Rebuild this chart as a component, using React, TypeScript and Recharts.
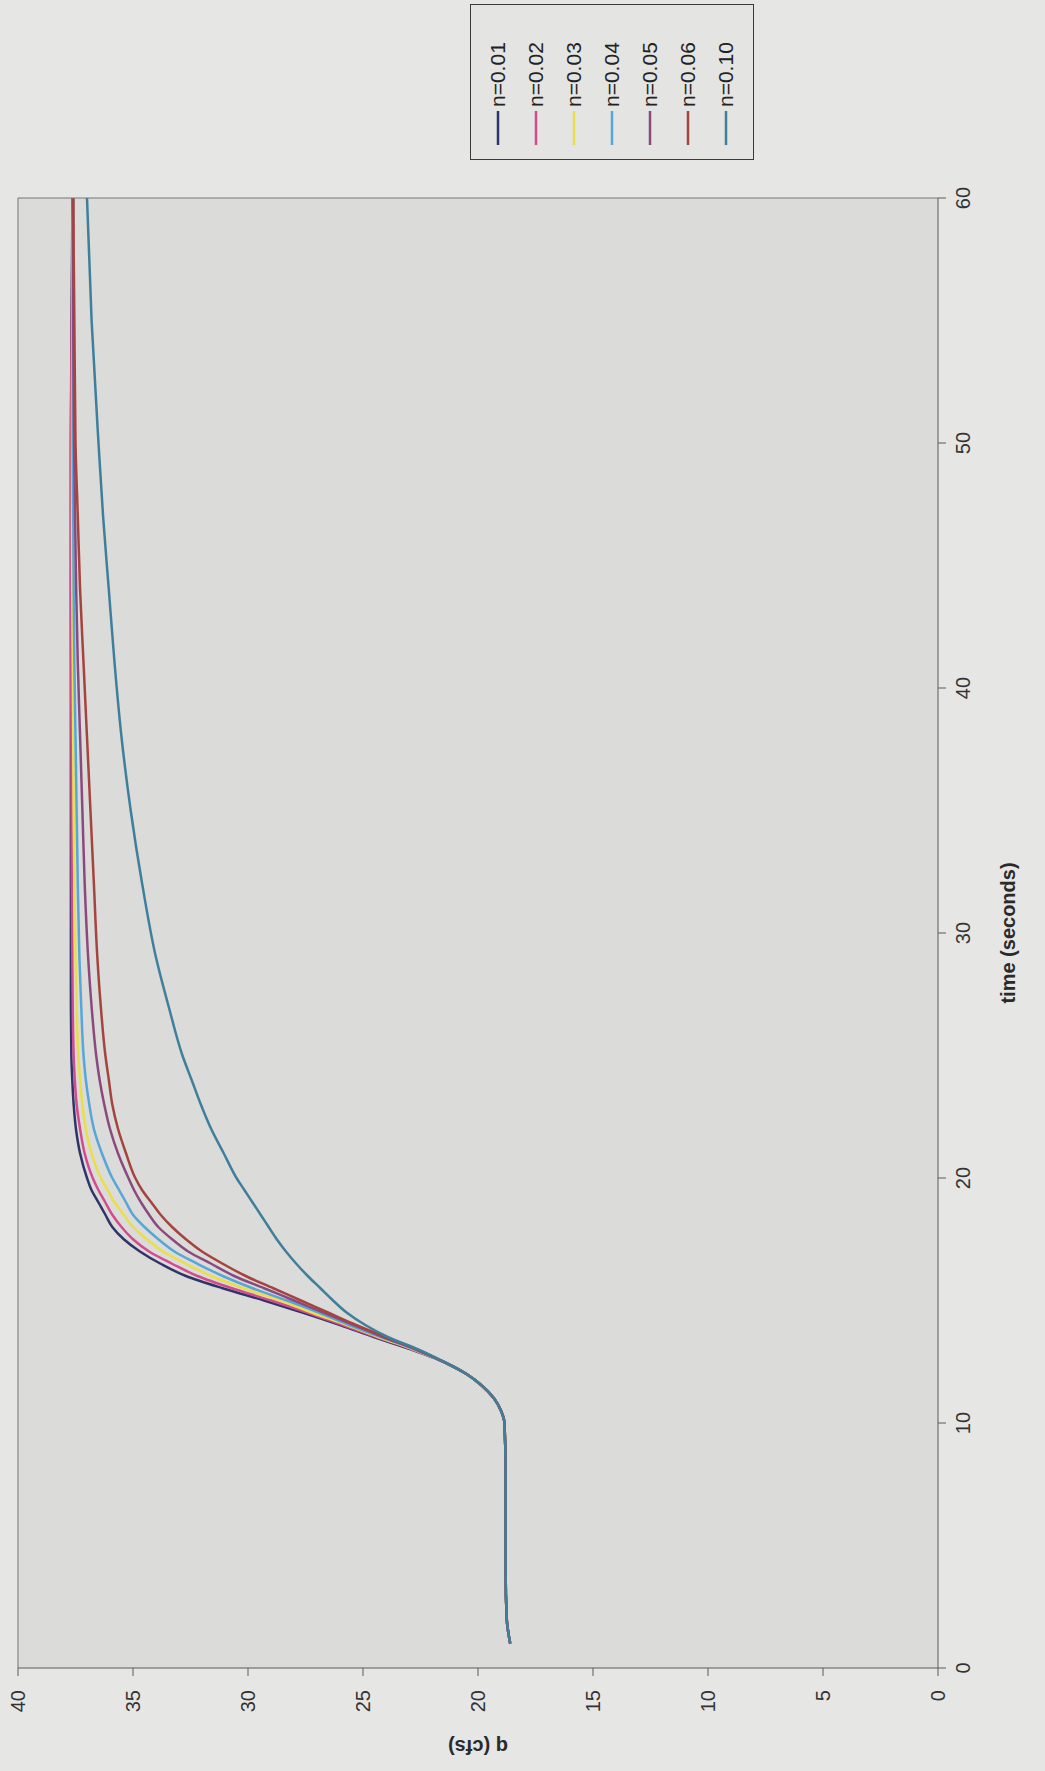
import { LineChart, Line, XAxis, YAxis, CartesianGrid, Legend } from 'recharts';

const FONT = '"Liberation Sans", Arial, sans-serif';

// time (s) at which every run was sampled
const TIMES = [1, 2, 4, 6, 8, 10, 10.5, 11, 11.5, 12, 12.5, 13, 13.5, 14, 14.5, 15, 15.5, 16, 16.5, 17, 17.5, 18, 18.5, 19, 19.5, 20, 21, 22, 23, 24, 25, 27, 29, 32, 35, 38, 41, 44, 47, 50, 55, 60];

// all runs share the same base flow up to t = 12.5 s
const BASEFLOW = [18.6, 18.75, 18.8, 18.8, 18.8, 18.85, 19.0, 19.3, 19.8, 20.5, 21.5];

// rising limb, t = 13 s onwards
const N001 = [22.9, 24.5, 26.0, 27.6, 29.3, 31.1, 32.7, 33.8, 34.7, 35.4, 35.9, 36.2, 36.5, 36.8, 37.0, 37.3, 37.48, 37.58, 37.64, 37.68, 37.7, 37.7, 37.7, 37.7, 37.7, 37.7, 37.7, 37.7, 37.7, 37.67, 37.63];
const N002 = [22.85, 24.4, 25.9, 27.4, 29.0, 30.7, 32.2, 33.3, 34.3, 35.0, 35.5, 35.9, 36.2, 36.5, 36.75, 37.1, 37.3, 37.45, 37.53, 37.58, 37.62, 37.64, 37.66, 37.67, 37.68, 37.69, 37.7, 37.7, 37.7, 37.66, 37.62];
const N003 = [22.8, 24.3, 25.7, 27.2, 28.6, 30.2, 31.6, 32.7, 33.7, 34.4, 35.0, 35.4, 35.8, 36.1, 36.4, 36.8, 37.05, 37.2, 37.3, 37.38, 37.45, 37.5, 37.55, 37.58, 37.6, 37.62, 37.64, 37.65, 37.65, 37.64, 37.6];
const N004 = [22.75, 24.2, 25.6, 26.9, 28.3, 29.8, 31.1, 32.2, 33.2, 33.9, 34.5, 35.0, 35.3, 35.6, 35.9, 36.35, 36.7, 36.9, 37.05, 37.15, 37.25, 37.33, 37.4, 37.45, 37.5, 37.55, 37.58, 37.6, 37.62, 37.62, 37.6];
const N005 = [22.7, 24.1, 25.4, 26.7, 28.0, 29.3, 30.6, 31.6, 32.6, 33.3, 33.9, 34.3, 34.65, 34.95, 35.2, 35.65, 36.0, 36.25, 36.45, 36.6, 36.8, 36.95, 37.1, 37.2, 37.3, 37.4, 37.47, 37.52, 37.56, 37.6, 37.6];
const N006 = [22.65, 24.0, 25.3, 26.5, 27.7, 28.9, 30.1, 31.1, 32.0, 32.7, 33.3, 33.8, 34.2, 34.6, 34.9, 35.3, 35.65, 35.9, 36.05, 36.2, 36.4, 36.55, 36.7, 36.85, 37.0, 37.15, 37.3, 37.4, 37.5, 37.55, 37.6];
const N010 = [22.6, 23.9, 24.9, 25.7, 26.3, 26.85, 27.4, 27.9, 28.35, 28.75, 29.1, 29.45, 29.8, 30.15, 30.5, 31.05, 31.6, 32.05, 32.45, 32.85, 33.45, 34.0, 34.6, 35.1, 35.5, 35.8, 36.05, 36.3, 36.5, 36.8, 37.0];

const SERIES_NAMES = ['n=0.01', 'n=0.02', 'n=0.03', 'n=0.04', 'n=0.05', 'n=0.06', 'n=0.10'];
const SERIES_VALUES = [N001, N002, N003, N004, N005, N006, N010];
const SERIES_COLORS = ['#2f3568', '#d24b90', '#e8df4a', '#56a7d8', '#8b4a7e', '#a4443f', '#3e7f9c'];

const TIME_TICKS = [0, 10, 20, 30, 40, 50, 60];
const Q_TICKS = [0, 5, 10, 15, 20, 25, 30, 35, 40];

const rows = TIMES.map((t, i) => {
    const row: Record<string, number> = { t };
    SERIES_VALUES.forEach((vals, k) => {
        row['s' + k] = i < BASEFLOW.length ? BASEFLOW[i] : vals[i - BASEFLOW.length];
    });
    return row;
});

// the scanned page is turned a quarter turn, so the chart is drawn upright and then rotated
const CHART_W = 1771;
const CHART_H = 1045;

function LegendBox() {
    return (
        <div style={{ boxSizing: 'border-box', width: 156, border: '1px solid #3a3a3a', background: '#e4e4e2', padding: '8px 14px', fontFamily: FONT, fontSize: 21, color: '#222' }}>
            {SERIES_NAMES.map((name, i) => (
                <div key={name} style={{ display: 'flex', alignItems: 'center', height: 38 }}>
                    <svg width={34} height={4}>
                        <line x1={0} y1={2} x2={34} y2={2} stroke={SERIES_COLORS[i]} strokeWidth={2.5} />
                    </svg>
                    <span style={{ marginLeft: 4 }}>{name}</span>
                </div>
            ))}
        </div>
    );
}

export default function App() {
    return (
        <div style={{ position: 'absolute', left: 0, top: 0, width: 1045, height: 1771, background: '#e6e6e4', overflow: 'hidden' }}>
            <div style={{ position: 'absolute', left: 0, top: 0, width: CHART_W, height: CHART_H, transformOrigin: '0 0', transform: `translateY(${CHART_W}px) rotate(-90deg)` }}>
                <LineChart width={CHART_W} height={CHART_H} data={rows} margin={{ top: 17, right: 197, bottom: 0, left: 0 }}>
                    <CartesianGrid xAxisId="b" yAxisId="l" horizontal={false} vertical={false} fill="#dbdbd9" stroke="none" />
                    <XAxis
                        xAxisId="b"
                        dataKey="t"
                        type="number"
                        domain={[0, 60]}
                        ticks={TIME_TICKS}
                        height={107}
                        tickSize={8}
                        tickMargin={10}
                        stroke="#5a5a5a"
                        tick={{ fill: '#333', fontSize: 20, fontFamily: FONT }}
                        label={{
                            content: (props: any) => {
                                const vb = props.viewBox;
                                return (
                                    <text x={vb.x + vb.width / 2} y={vb.y + 70} textAnchor="middle" dominantBaseline="central" fontFamily={FONT} fontSize={20} fontWeight="bold" fill="#2a2a2a">
                                        time (seconds)
                                    </text>
                                );
                            },
                        }}
                    />
                    <XAxis xAxisId="top" orientation="top" dataKey="t" type="number" domain={[0, 60]} height={1} tick={false} tickLine={false} stroke="#777" />
                    <YAxis
                        yAxisId="l"
                        type="number"
                        domain={[0, 40]}
                        ticks={Q_TICKS}
                        width={103}
                        tickSize={8}
                        tickMargin={14}
                        stroke="#5a5a5a"
                        tick={{ fill: '#333', fontSize: 20, fontFamily: FONT }}
                        label={{
                            content: (props: any) => {
                                const vb = props.viewBox;
                                const cx = vb.x + 24;
                                const cy = vb.y + vb.height / 2;
                                return (
                                    <text x={cx} y={cy} transform={`rotate(-90 ${cx} ${cy})`} textAnchor="middle" dominantBaseline="central" fontFamily={FONT} fontSize={20} fontWeight="bold" fill="#2a2a2a">
                                        q (cfs)
                                    </text>
                                );
                            },
                        }}
                    />
                    <YAxis yAxisId="r" orientation="right" type="number" domain={[0, 40]} width={1} tick={false} tickLine={false} stroke="#777" />
                    {SERIES_NAMES.map((name, k) => (
                        <Line
                            key={name}
                            xAxisId="b"
                            yAxisId="l"
                            type="monotone"
                            dataKey={'s' + k}
                            name={name}
                            stroke={SERIES_COLORS[k]}
                            strokeWidth={2.5}
                            dot={false}
                            isAnimationActive={false}
                        />
                    ))}
                    <Legend layout="horizontal" verticalAlign="middle" align="center" content={() => <LegendBox />} wrapperStyle={{ left: 1611, top: 470, width: 'auto', height: 'auto' }} />
                </LineChart>
            </div>
        </div>
    );
}
